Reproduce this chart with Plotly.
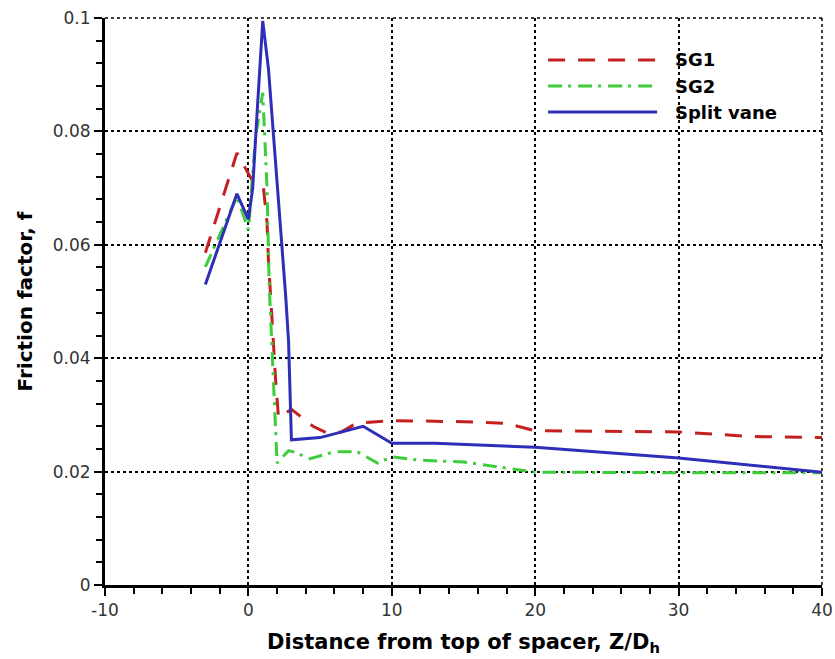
import plotly.graph_objects as go

# ---- data ----
sg1_x = [-3, -0.8, 0.3, 1.05, 1.3, 1.4, 1.55, 1.75, 1.9, 2.1, 3, 4.5, 5.5, 6.5, 7.5, 10, 15, 18, 20, 30, 35, 40]
sg1_y = [0.0586, 0.0762, 0.0712, 0.070, 0.064, 0.057, 0.051, 0.042, 0.036, 0.0295, 0.031, 0.028, 0.0268, 0.027, 0.0285,
         0.029, 0.0288, 0.0285, 0.0272, 0.027, 0.0262, 0.026]

sg2_x = [-3, -0.8, 0, 0.5, 1.0, 1.3, 1.45, 1.75, 2.0, 2.8, 3.4, 4.2, 6, 7.6, 9, 10, 12, 15, 17.5, 20, 30, 40]
sg2_y = [0.0561, 0.0685, 0.0626, 0.079, 0.0868, 0.070, 0.053, 0.036, 0.0215, 0.0237, 0.0233, 0.0222, 0.0235, 0.0235,
         0.0215, 0.0226, 0.022, 0.0217, 0.0208, 0.0199, 0.0198, 0.0198]

sv_x = [-3, -0.8, 0, 0.3, 0.6, 1.0, 1.4, 1.9, 2.3, 2.6, 2.8, 3.0, 5, 8, 10, 13, 20, 30, 40]
sv_y = [0.053, 0.069, 0.0645, 0.070, 0.083, 0.0995, 0.091, 0.075, 0.061, 0.051, 0.043, 0.0256, 0.026, 0.028, 0.025,
        0.025, 0.0243, 0.0224, 0.0199]

names = ["SG1", "SG2", "Split vane"]
colors = ["#c42020", "#3ccc3c", "#2e2eb8"]
dashes = ["17px,13px", "14px,6px,3px,7px", "solid"]

x_ticks = [-10, 0, 10, 20, 30, 40]
x_ticklabels = ["-10", "0", "10", "20", "30", "40"]
y_ticks = [0, 0.02, 0.04, 0.06, 0.08, 0.1]
y_ticklabels = ["0", "0.02", "0.04", "0.06", "0.08", "0.1"]

fig = go.Figure()
for xs, ys, nm, c, d in zip([sg1_x, sg2_x, sv_x], [sg1_y, sg2_y, sv_y], names, colors, dashes):
    fig.add_trace(go.Scatter(x=xs, y=ys, mode="lines", name=nm,
                             line=dict(color=c, width=3, dash=d), showlegend=False))

# dotted grid lines at the far edges (plotly omits them at range ends)
fig.add_shape(type="line", xref="paper", yref="paper", x0=0, x1=1, y0=1, y1=1,
              line=dict(color="black", width=1.5, dash="dot"), layer="below")
fig.add_shape(type="line", xref="paper", yref="paper", x0=1, x1=1, y0=0, y1=1,
              line=dict(color="black", width=1.5, dash="dot"), layer="below")

# manual legend (long line samples as in the reference)
leg_y = [0.926, 0.880, 0.834]
for nm, c, d, yy in zip(names, colors, dashes, leg_y):
    fig.add_shape(type="line", xref="paper", yref="paper", x0=0.618, x1=0.770, y0=yy, y1=yy,
                  line=dict(color=c, width=3, dash=d))
    fig.add_annotation(xref="paper", yref="paper", x=0.792, y=yy, text=nm, showarrow=False,
                       xanchor="left", yanchor="middle",
                       font=dict(family="DejaVu Sans", size=18, color="black", weight="bold"))

axis_common = dict(
    automargin=False,
    showline=True, linecolor="black", linewidth=3, mirror=False,
    showgrid=True, gridcolor="black", griddash="dot", gridwidth=1.5,
    zeroline=False, ticks="outside", ticklen=8, tickwidth=2, tickcolor="black",
    tickfont=dict(family="DejaVu Sans", size=17, color="#333333"),
)

fig.update_xaxes(range=[-10, 40], tickvals=x_ticks, ticktext=x_ticklabels,
                 minor=dict(dtick=2, ticks="outside", ticklen=6, tickwidth=1.5, tickcolor="black", showgrid=False),
                 title=dict(text="Distance from top of spacer, Z/D<sub>h</sub>",
                            font=dict(family="DejaVu Sans", size=21, color="black", weight="bold")),
                 **axis_common)
fig.update_yaxes(range=[0, 0.1], tickvals=y_ticks, ticktext=y_ticklabels,
                 minor=dict(dtick=0.004, ticks="outside", ticklen=6, tickwidth=1.5, tickcolor="black", showgrid=False),
                 title=dict(text="Friction factor, f",
                            font=dict(family="DejaVu Sans", size=20, color="black", weight="bold")),
                 **axis_common)

fig.update_layout(width=835, height=659, margin=dict(l=105, r=13, t=18, b=74),
                  plot_bgcolor="white", paper_bgcolor="white", showlegend=False)

fig.write_html("out.html")
